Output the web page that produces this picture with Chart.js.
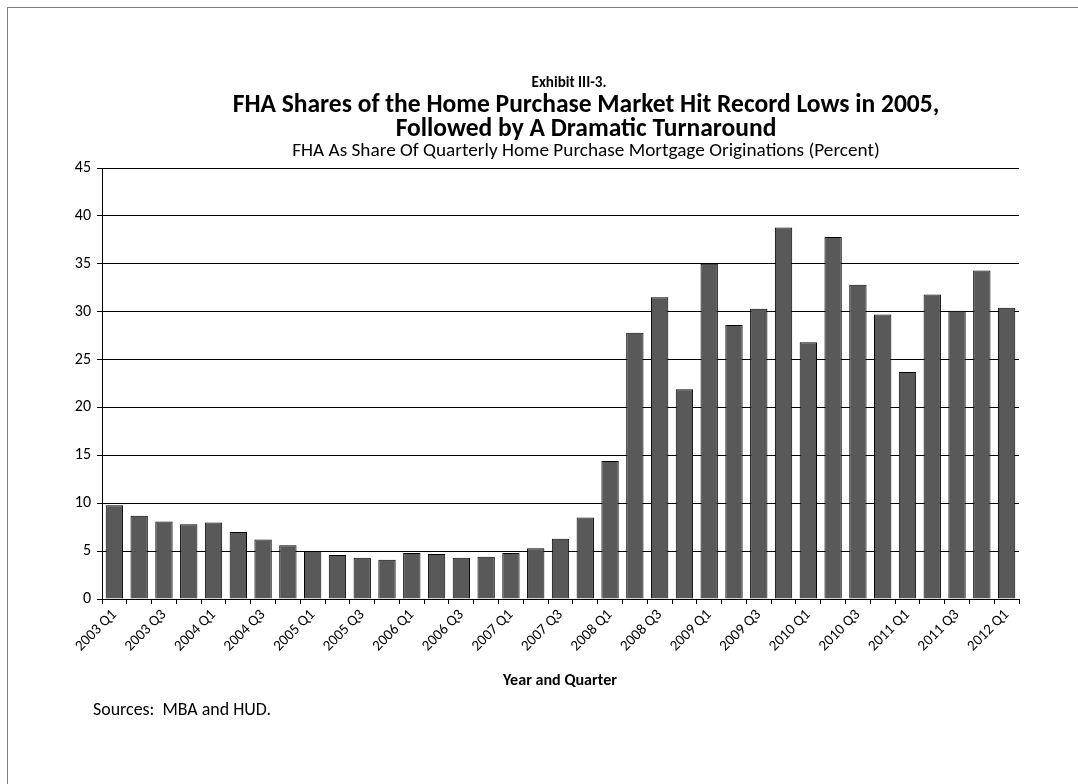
<!DOCTYPE html>
<html>
<head>
<meta charset="utf-8">
<script src="https://cdn.jsdelivr.net/npm/chart.js@4"></script>
<style>
  html, body { margin: 0; padding: 0; background: #fff; }
  #wrap { position: relative; width: 1078px; height: 784px; overflow: hidden; font-family: Carlito, Lato, sans-serif; color: #000; }
  #frame { position: absolute; left: 7px; top: 7px; right: -10px; bottom: -10px; border-top: 1px solid #7f7f7f; border-left: 1px solid #7f7f7f; }
  canvas { position: absolute; left: 0; top: 0; }
  .txt { position: absolute; white-space: pre; line-height: 1; transform: translate(-50%, -50%); }
  .left { transform: translate(0, -50%); }
  .b { font-weight: bold; }
</style>
</head>
<body>
<div id="wrap">
  <div id="frame"></div>
  <canvas id="chart" width="1078" height="784"></canvas>
  <div class="txt b fit" data-w="75" style="left:569px; top:83px;">Exhibit III-3.</div>
  <div class="txt b fit" id="t1" data-w="707" style="left:586px; top:104px;">FHA Shares of the Home Purchase Market Hit Record Lows in 2005,</div>
  <div class="txt b" id="t2" style="left:586px; top:128px;">Followed by A Dramatic Turnaround</div>
  <div class="txt fit" data-w="588" style="left:586px; top:150px;">FHA As Share Of Quarterly Home Purchase Mortgage Originations (Percent)</div>
  <div class="txt b fit" data-w="114" style="left:560px; top:680px;">Year and Quarter</div>
  <div class="txt left fit" data-w="178" style="left:93px; top:710px;">Sources:  MBA and HUD.</div>
</div>
<script>
"use strict";
const quarters = [
  "2003 Q1", "2003 Q2", "2003 Q3", "2003 Q4",
  "2004 Q1", "2004 Q2", "2004 Q3", "2004 Q4",
  "2005 Q1", "2005 Q2", "2005 Q3", "2005 Q4",
  "2006 Q1", "2006 Q2", "2006 Q3", "2006 Q4",
  "2007 Q1", "2007 Q2", "2007 Q3", "2007 Q4",
  "2008 Q1", "2008 Q2", "2008 Q3", "2008 Q4",
  "2009 Q1", "2009 Q2", "2009 Q3", "2009 Q4",
  "2010 Q1", "2010 Q2", "2010 Q3", "2010 Q4",
  "2011 Q1", "2011 Q2", "2011 Q3", "2011 Q4",
  "2012 Q1",
];
const fhaShare = [
  9.8, 8.7, 8.1, 7.8, 8.0, 7.0, 6.2, 5.6, 5.0, 4.6, 4.3, 4.1,
  4.8, 4.7, 4.3, 4.4, 4.8, 5.3, 6.3, 8.5,
  14.4, 27.8, 31.5, 21.9, 35.0, 28.6, 30.3, 38.8, 26.8, 37.8, 32.8, 29.7,
  23.7, 31.8, 30.1, 34.3, 30.4,
];
const yMin = 0;
const yMax = 45;
const yStep = 5;

// size the html text to the widths in the picture
document.querySelectorAll(".fit").forEach((el) => {
  el.style.fontSize = "100px";
  const w = el.getBoundingClientRect().width;
  el.style.fontSize = (100 * Number(el.dataset.w)) / w + "px";
});
// second title line uses the same size as the first
document.querySelector("#t2").style.fontSize = document.querySelector("#t1").style.fontSize;

const font = "Carlito, Lato, sans-serif";
new Chart(document.querySelector("#chart").getContext("2d"), {
  type: "bar",
  data: {
    labels: quarters,
    datasets: [
      {
        label: "FHA share",
        data: fhaShare,
        backgroundColor: "#595959",
        borderColor: "#000",
        borderWidth: 1,
        barPercentage: 0.7,
        categoryPercentage: 1,
      },
    ],
  },
  options: {
    responsive: false,
    devicePixelRatio: 1,
    animation: false,
    layout: { padding: { left: 42, right: 59, top: 168, bottom: 125 } },
    plugins: { legend: { display: false }, tooltip: { enabled: false } },
    scales: {
      x: {
        grid: { drawOnChartArea: false, color: "#000", tickLength: 5 },
        border: { color: "#000" },
        ticks: {
          autoSkip: false,
          maxRotation: 45,
          minRotation: 45,
          padding: 2,
          color: "#000",
          font: { family: font, size: 15 },
          callback: function (v, i) {
            return i % 2 === 0 ? quarters[i] : "";
          },
        },
        afterFit: (s) => { s.height = 60; },
      },
      y: {
        min: yMin,
        max: yMax,
        ticks: { stepSize: yStep, color: "#000", padding: 6, font: { family: font, size: 16 } },
        grid: { color: "#000", tickLength: 5 },
        border: { color: "#000" },
        afterFit: (s) => { s.width = 60; },
      },
    },
  },
});
</script>
</body>
</html>
